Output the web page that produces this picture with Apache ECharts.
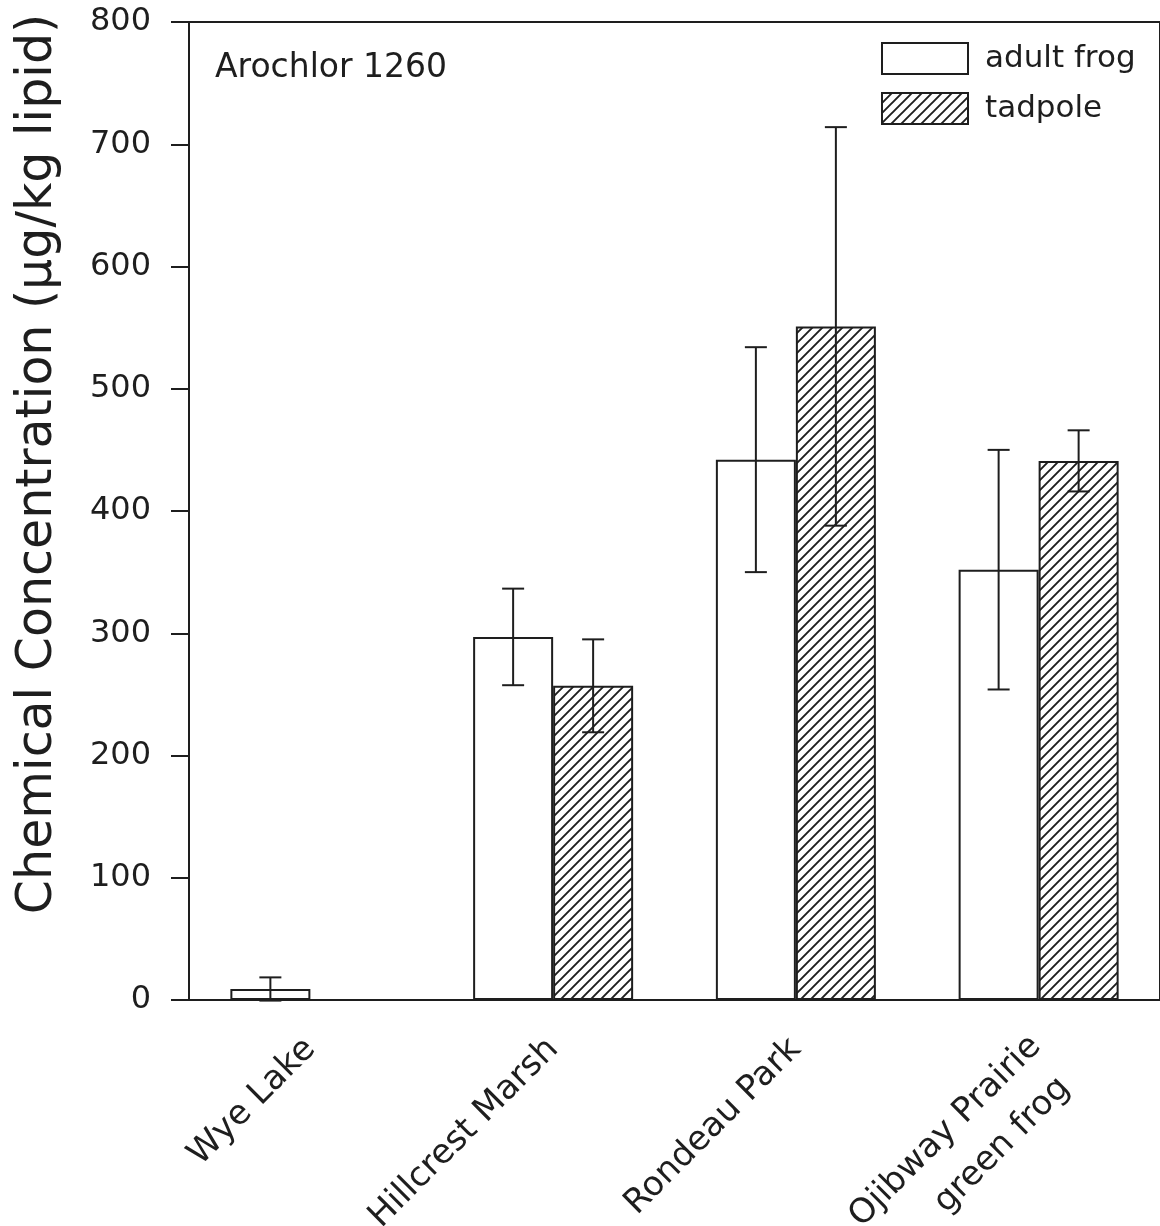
<!DOCTYPE html>
<html>
<head>
<meta charset="utf-8">
<script src="https://cdn.jsdelivr.net/npm/echarts@6/dist/echarts.min.js"></script>
<style>
html,body{margin:0;padding:0;background:#fff;}
#chart{width:1160px;height:1226px;}
</style>
</head>
<body>
<div id="chart"></div>
<script>
// ---- data ----
const categories = ['Wye Lake', 'Hillcrest Marsh', 'Rondeau Park', 'Ojibway Prairie\ngreen frog'];
const adultFrog = [9, 297, 442, 352];
const adultFrogErr = [9.5, 39.5, 92, 98];
const tadpole = [null, 257, 551, 441];
const tadpoleErr = [null, 38, 163, 25];
const yTicks = [0, 100, 200, 300, 400, 500, 600, 700, 800];
const panelLabel = 'Arochlor 1260';
const yTitle = 'Chemical Concentration (µg/kg lipid)';

// ---- hatch pattern ----
function makeHatch() {
  const c = document.createElement('canvas');
  const s = 10;
  c.width = s; c.height = s;
  const g = c.getContext('2d');
  g.fillStyle = '#ffffff';
  g.fillRect(0, 0, s, s);
  g.strokeStyle = '#1e1e1e';
  g.lineWidth = 1.9;
  g.beginPath();
  g.moveTo(-2, s + 2); g.lineTo(s + 2, -2);
  g.moveTo(-2, 2); g.lineTo(2, -2);
  g.moveTo(s - 2, s + 2); g.lineTo(s + 2, s - 2);
  g.stroke();
  return c;
}
const hatch = { image: makeHatch(), repeat: 'repeat' };

const FONT = '"DejaVu Sans", "Liberation Sans", Arial, sans-serif';
const INK = '#1e1e1e';
const BAR_W = 80;
const LABEL_SIZE = 34;
const LINE_H = 50;

// measure text to offset shorter lines of multi-line category labels
const measureCtx = document.createElement('canvas').getContext('2d');
measureCtx.font = LABEL_SIZE + 'px ' + FONT;
function textW(s) { return measureCtx.measureText(s).width; }

function errSeries(name, values, errs, sign) {
  const data = values.map((v, i) => errs[i] == null ? null : [i, v, errs[i]]).filter(d => d);
  return {
    type: 'custom',
    name: name + ' err',
    silent: true,
    z: 5,
    encode: { x: 0, y: 1 },
    data: data,
    renderItem: function (params, api) {
      const idx = api.value(0), v = api.value(1), e = api.value(2);
      const top = api.coord([idx, v + e]);
      const bot = api.coord([idx, v - e]);
      const x = top[0] + sign * BAR_W / 2;
      const cap = 11;
      const st = { stroke: INK, lineWidth: 2 };
      return {
        type: 'group',
        children: [
          { type: 'line', shape: { x1: x, y1: top[1], x2: x, y2: bot[1] }, style: st },
          { type: 'line', shape: { x1: x - cap, y1: top[1], x2: x + cap, y2: top[1] }, style: st },
          { type: 'line', shape: { x1: x - cap, y1: bot[1], x2: x + cap, y2: bot[1] }, style: st }
        ]
      };
    }
  };
}

// rich styles: multi-line labels get a spacer so the first line sits like a single-line label,
// and shorter lines are pulled back slightly toward the centre
const richStyles = {
  c: { fontSize: LABEL_SIZE, fontFamily: FONT, color: INK, lineHeight: LINE_H },
  s: { fontSize: 4, lineHeight: LINE_H - 8 }
};
const labelText = {};
categories.forEach(function (cat, ci) {
  const lines = cat.split('\n');
  const maxW = Math.max.apply(null, lines.map(textW));
  const parts = lines.map(function (s, li) {
    const pad = Math.round((maxW - textW(s)) * 0.12);
    if (pad < 1) return '{c|' + s + '}';
    const key = 'p' + ci + '_' + li;
    richStyles[key] = { fontSize: LABEL_SIZE, fontFamily: FONT, color: INK, lineHeight: LINE_H, padding: [0, pad, 0, 0] };
    return '{' + key + '|' + s + '}';
  });
  if (lines.length > 1) parts.unshift('{s| }');
  labelText[cat] = parts.join('\n');
});

const chart = echarts.init(document.getElementById('chart'), null, { renderer: 'canvas' });
chart.setOption({
  animation: false,
  backgroundColor: '#fff',
  textStyle: { fontFamily: FONT },
  title: {
    text: panelLabel,
    left: 210, top: 47,
    textStyle: { fontFamily: FONT, fontSize: 33, fontWeight: 'normal', color: INK }
  },
  legend: {
    left: 876, top: 37,
    orient: 'vertical',
    itemWidth: 86, itemHeight: 31,
    itemGap: 17,
    icon: 'rect',
    data: ['adult frog', 'tadpole'],
    textStyle: { fontFamily: FONT, fontSize: 31, color: INK, padding: [0, 0, 0, 12] },
    selectedMode: false
  },
  grid: {
    left: 189, right: 0, top: 22, bottom: 226,
    outerBoundsMode: 'none',
    containLabel: false,
    show: true, borderColor: INK, borderWidth: 2, backgroundColor: 'transparent'
  },
  xAxis: {
    type: 'category',
    data: categories,
    axisLine: { lineStyle: { color: INK, width: 2 } },
    axisTick: { alignWithLabel: true, length: 18, lineStyle: { color: INK, width: 2 } },
    axisLabel: {
      rotate: 45, fontSize: LABEL_SIZE, color: INK, fontFamily: FONT, margin: 44, interval: 0,
      lineHeight: LINE_H,
      formatter: function (v) { return labelText[v] || v; },
      rich: richStyles
    }
  },
  yAxis: {
    type: 'value',
    min: yTicks[0], max: yTicks[yTicks.length - 1], interval: 100,
    splitLine: { show: false },
    axisLine: { show: true, lineStyle: { color: INK, width: 2 } },
    axisTick: { show: true, length: 18, lineStyle: { color: INK, width: 2 } },
    axisLabel: { fontSize: 32, color: INK, fontFamily: FONT, margin: 38 },
    name: yTitle,
    nameLocation: 'middle',
    nameGap: 126,
    nameTextStyle: { fontSize: 49, color: INK, fontFamily: FONT, padding: [0, 0, 0, 94] }
  },
  series: [
    {
      name: 'adult frog', type: 'bar', data: adultFrog,
      barWidth: BAR_W, barGap: '0%',
      itemStyle: { color: '#ffffff', borderColor: INK, borderWidth: 2 }
    },
    {
      name: 'tadpole', type: 'bar', data: tadpole,
      barWidth: BAR_W, barGap: '0%',
      itemStyle: { color: hatch, borderColor: INK, borderWidth: 2 }
    },
    errSeries('adult frog', adultFrog, adultFrogErr, -1),
    errSeries('tadpole', tadpole, tadpoleErr, 1)
  ]
});
</script>
</body>
</html>
